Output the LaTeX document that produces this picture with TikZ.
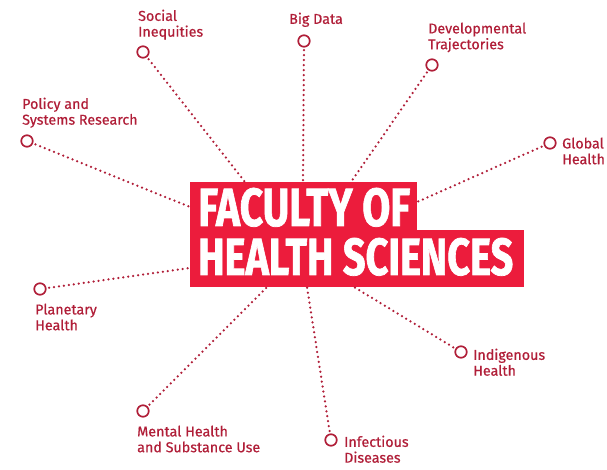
\documentclass[tikz,border=0pt]{standalone}
\usepackage{fontspec}
\setmainfont{Fira Sans}
\newfontfamily\lblfont{Fira Sans}[FakeBold=0.6]
\newfontfamily\titlefont{Fira Sans}[BoldFeatures={FakeBold=1.5}]
\usepackage{graphicx}
\definecolor{boxred}{HTML}{EC1C3C}
\definecolor{darkred}{HTML}{B01E38}
\tikzset{
  hub/.style={circle, draw=darkred, line width=1.7pt, minimum size=11.5pt, inner sep=0pt, fill=white},
  lbl/.style={anchor=north west, inner sep=0pt, align=left, text=darkred, font=\lblfont\fontsize{14.3}{15.8}\selectfont},
  dotline/.style={draw=darkred, line width=2.5pt, dash pattern=on 0pt off 5pt, line cap=round, shorten <=2.5pt},
  band/.style={fill=boxred, draw=none},
  title/.style={anchor=south west, inner sep=0pt, text=white}
}
\begin{document}
\begin{tikzpicture}[x=1pt,y=-1pt]
\useasboundingbox (0,0) rectangle (607,469);
% central box
\fill[band] (190,182) rectangle (417,231);
\fill[band] (190,230) rectangle (524,287);
\node[title] (t1) at (198,227) {\resizebox{212pt}{38pt}{\titlefont\bfseries FACULTY OF}};
\node[title] (t2) at (198,276) {\resizebox{315pt}{37pt}{\titlefont\bfseries HEALTH SCIENCES}};
% end points on the box
\coordinate (eSoc) at (245,182);
\coordinate (eBig) at (303,182);
\coordinate (eDev) at (351,182);
\coordinate (eGlo) at (417,202);
\coordinate (ePol) at (190,207);
\coordinate (ePla) at (190,268);
\coordinate (eMen) at (267,287);
\coordinate (eInf) at (307,287);
\coordinate (eInd) at (354,287);
% hubs
\node[hub] (cSoc) at (143,52) {};
\node[hub] (cBig) at (304,41) {};
\node[hub] (cDev) at (432,65) {};
\node[hub] (cGlo) at (550,143) {};
\node[hub] (cPol) at (27,141) {};
\node[hub] (cPla) at (40,289) {};
\node[hub] (cMen) at (143,411) {};
\node[hub] (cInf) at (331,440) {};
\node[hub] (cInd) at (461,352) {};
% connectors
\draw[dotline] (cSoc) -- (eSoc);
\draw[dotline] (cBig) -- (eBig);
\draw[dotline] (cDev) -- (eDev);
\draw[dotline] (cGlo) -- (eGlo);
\draw[dotline] (cPol) -- (ePol);
\draw[dotline] (cPla) -- (ePla);
\draw[dotline] (cMen) -- (eMen);
\draw[dotline] (cInf) -- (eInf);
\draw[dotline] (cInd) -- (eInd);
% labels
\node[lbl] (lSoc) at (138,9.5) {Social\\Inequities};
\node[lbl] (lBig) at (289,12.5) {Big Data};
\node[lbl] (lDev) at (428,22.5) {Developmental\\Trajectories};
\node[lbl] (lPol) at (22,97.5) {Policy and\\Systems Research};
\node[lbl] (lGlo) at (562,137.5) {Global\\Health};
\node[lbl] (lPla) at (35,303.5) {Planetary\\Health};
\node[lbl] (lInd) at (473,348.5) {Indigenous\\Health};
\node[lbl] (lMen) at (137,425.5) {Mental Health\\and Substance Use};
\node[lbl] (lInf) at (344,435.5) {Infectious\\Diseases};
\end{tikzpicture}
\end{document}
